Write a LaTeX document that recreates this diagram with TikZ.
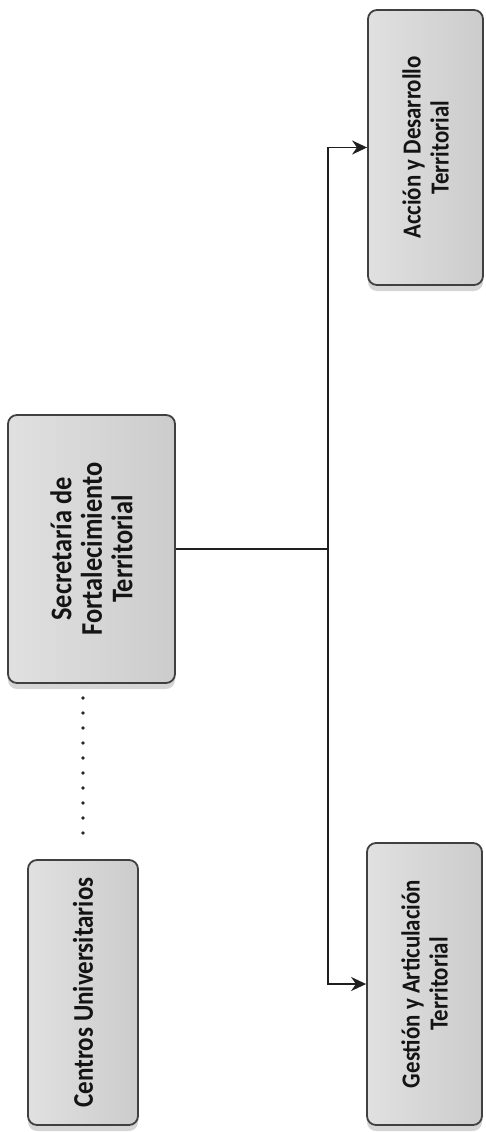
\documentclass[tikz,border=0pt]{standalone}
\usepackage{fontspec}
\newfontfamily\boxfont{Carlito}[FakeStretch=0.88, UprightFont=*-Bold, BoldFont=*-Bold]
\usetikzlibrary{arrows.meta,shadows}
\tikzset{
  orgbox/.style={rotate=90, draw=black!75, line width=1.8pt, rounded corners=9pt,
    left color=gray!24, right color=gray!40,
    drop shadow={shadow xshift=0pt, shadow yshift=-6pt, fill=gray!55, opacity=0.6},
    align=center, inner sep=0pt, text=black!92,
    font=\boxfont\fontsize{26}{28}\selectfont},
  bigtext/.style={font=\boxfont\fontsize{30}{30.5}\selectfont},
  midtext/.style={font=\boxfont\fontsize{28.5}{30}\selectfont},
  link/.style={line width=1.8pt, draw=black!88},
  arr/.style={link, -{Stealth[length=15pt,width=14pt]}},
  dotline/.style={line width=3.8pt, line cap=round, dash pattern=on 0pt off 15pt, draw=black!85}
}
\begin{document}
\begin{tikzpicture}[x=1pt,y=1pt]
\useasboundingbox (0,0) rectangle (486,-1132);
\node[orgbox, midtext, minimum width=265pt, minimum height=110pt] (cen) at (83,-992.5) {Centros Universitarios};
\node[orgbox, bigtext, minimum width=268pt, minimum height=167pt] (sec) at (91.5,-549) {Secretaría de\\Fortalecimiento\\Territorial};
\node[orgbox, minimum width=275pt, minimum height=115pt] (acc) at (425.5,-147.5) {Acción y Desarrollo\\Territorial};
\node[orgbox, minimum width=282pt, minimum height=115pt] (ges) at (424.5,-984) {Gestión y Articulación\\Territorial};
\coordinate (j) at (328,-549);
\draw[link] (sec.south) -- (j);
\draw[arr] (j) |- (acc.north);
\draw[arr] (j) |- (ges.north);
\draw[dotline] ([yshift=-14pt]cen.east |- sec.west) -- ([yshift=13pt]cen.east);
\end{tikzpicture}
\end{document}
